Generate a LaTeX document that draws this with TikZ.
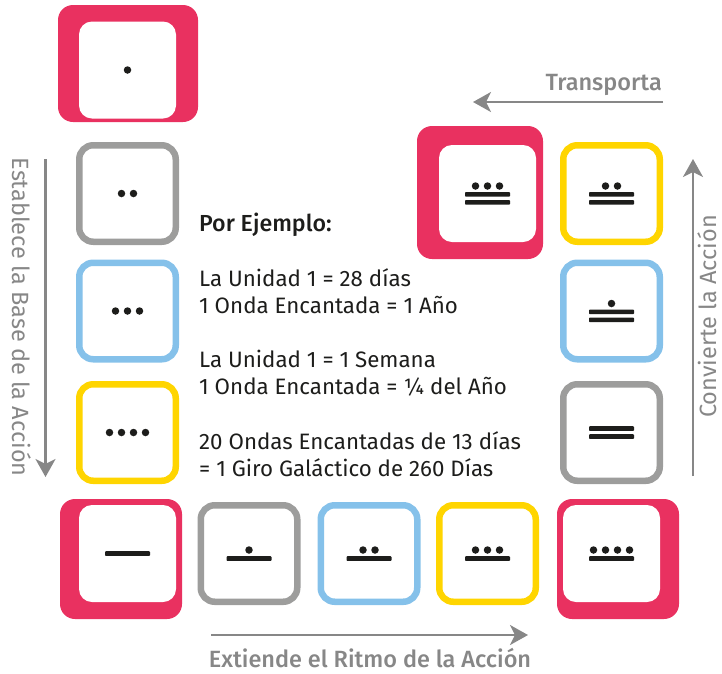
\documentclass[tikz,border=0pt]{standalone}
\usepackage{fontspec}
\setmainfont{Fira Sans}
\newfontfamily\medio{Fira Sans Medium}
\usetikzlibrary{arrows.meta}
\definecolor{rojo}{HTML}{E93160}
\definecolor{gris}{HTML}{9D9D9C}
\definecolor{azul}{HTML}{85C1EA}
\definecolor{oro}{HTML}{FFD500}
\definecolor{flecha}{HTML}{878787}
\definecolor{tinta}{HTML}{1D1D1B}
\tikzset{
  caja/.style={draw=#1, line width=6.5pt, rounded corners=14pt, fill=white, minimum width=96.5pt, minimum height=96.5pt, inner sep=0pt},
  hueco/.style={fill=white, rounded corners=13pt, minimum width=97pt, minimum height=97pt, inner sep=0pt},
  punto/.style={circle, fill=tinta, minimum size=7.5pt, inner sep=0pt},
  flechita/.style={draw=flecha, line width=2.4pt, -{Stealth[length=18pt,width=20pt,inset=5pt]}},
  rotulo/.style={text=flecha, inner sep=0pt, font=\fontsize{23.5}{28}\selectfont},
  fuerte/.style={text=flecha, inner sep=0pt, font=\fontsize{23.5}{28}\selectfont\medio},
  nota/.style={text=tinta, align=left, anchor=north west, inner sep=0pt, font=\fontsize{22.3}{27.2}\selectfont}
}
% dots and bars of one number, drawn round (#1,#2)
\newcommand{\glifo}[4]{
  \pgfmathsetmacro{\ypunto}{#4==0 ? 0 : (#4==1 ? -3.5 : -7.5)}
  \pgfmathsetmacro{\ybarra}{#3==0 ? (#4==1 ? 0 : -4) : (#4==1 ? 5 : .8)}
  \ifnum#3>0
    \foreach \k in {1,...,#3}{
      \pgfmathsetmacro{\xpunto}{#1+12*(\k-(#3+1)/2)}
      \node[punto] at (\xpunto, #2+\ypunto) {};
    }
  \fi
  \ifnum#4>0
    \foreach \k in {1,...,#4}{
      \pgfmathsetmacro{\yb}{#2+\ybarra+(\k-1)*8}
      \fill[tinta, rounded corners=.8pt] (#1-22.5, \yb-2.3) rectangle (#1+22.5, \yb+2.3);
    }
  \fi
}
\begin{document}
\begin{tikzpicture}[x=1pt, y=-1pt]
  \useasboundingbox (0,0) rectangle (722,673);

  % red boxes: west, north, east, south edge of the plate, then the white hole
  \foreach \nombre/\w/\n/\e/\s/\cx/\cy in {
    uno/58/5/198/122/127.5/70,
    seis/60/499/182/619/127.5/553.5,
    diez/557/499/679/619/611.5/553.5,
    catorce/417/126/543/259/487.5/193.5}{
    \fill[rojo, rounded corners=15pt] (\w,\n) rectangle (\e,\s);
    \node[hueco] (\nombre) at (\cx,\cy) {};
  }

  % thin boxes
  \foreach \nombre/\cx/\cy/\tono in {
    dos/127.5/193.5/gris, tres/127.5/311/azul, cuatro/127.5/432.5/oro,
    siete/249/553.5/gris, ocho/369/553.5/azul, nueve/487.5/553.5/oro,
    once/611.5/432.5/gris, doce/611.5/311/azul, trece/611.5/193.5/oro}{
    \node[caja=\tono] (\nombre) at (\cx,\cy) {};
  }

  % x, y, dots, bars
  \foreach \cx/\cy/\p/\b in {
    127.5/70/1/0, 127.5/193.5/2/0, 127.5/311/3/0, 127.5/432.5/4/0,
    127.5/553.5/0/1, 249/553.5/1/1, 369/553.5/2/1, 487.5/553.5/3/1,
    611.5/553.5/4/1, 611.5/432.5/0/2, 611.5/311/1/2, 611.5/193.5/2/2,
    487.5/193.5/3/2}{
    \glifo{\cx}{\cy}{\p}{\b}
  }

  \node[nota, font=\fontsize{23.2}{27.2}\selectfont\medio] (ejemplo) at (199,212.5) {Por Ejemplo:};
  \node[nota] (unidad) at (199,268) {La Unidad 1 = 28 días\\1 Onda Encantada = 1 Año};
  \node[nota] (semana) at (199,350) {La Unidad 1 = 1 Semana\\1 Onda Encantada = ¼ del Año};
  \node[nota] (giro) at (199,431.5) {20 Ondas Encantadas de 13 días\\= 1 Giro Galáctico de 260 Días};

  \coordinate (a1) at (45.5,159);
  \coordinate (a2) at (45.5,477);
  \coordinate (b1) at (211,635);
  \coordinate (b2) at (528,635);
  \coordinate (c1) at (693,476);
  \coordinate (c2) at (693,159);
  \coordinate (d1) at (663,102);
  \coordinate (d2) at (473,102);
  \draw[flechita] (a1) -- (a2);
  \draw[flechita] (b1) -- (b2);
  \draw[flechita] (c1) -- (c2);
  \draw[flechita] (d1) -- (d2);

  \node[rotulo, rotate=-90, anchor=base] (establece) at (12.5,317) {Establece la Base de la Acción};
  \node[fuerte, anchor=base] (extiende) at (370,667.5) {Extiende el Ritmo de la Acción};
  \node[rotulo, rotate=90, anchor=base] (convierte) at (716,316.5) {Convierte la Acción};
  \node[fuerte, anchor=base east] (transporta) at (662,90) {Transporta};
\end{tikzpicture}
\end{document}
